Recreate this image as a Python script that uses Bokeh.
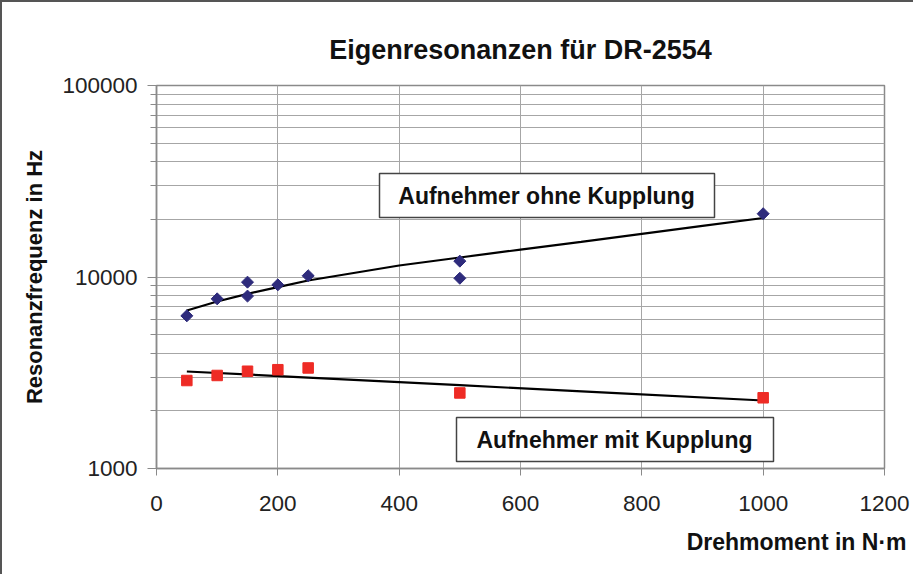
import numpy as np
from bokeh.plotting import figure
from bokeh.models import Range1d, FixedTicker, Label, BoxAnnotation, Title
from bokeh.embed import file_html
from bokeh.resources import INLINE

# ---- data ----
torque_ohne = [50, 100, 150, 150, 200, 250, 500, 500, 1000]
freq_ohne = [6270, 7690, 9400, 7950, 9100, 10150, 12100, 9850, 21400]

torque_mit = [50, 100, 150, 200, 250, 500, 1000]
freq_mit = [2880, 3060, 3220, 3280, 3350, 2480, 2340]

trend_ohne_x = [50, 100, 150, 200, 250, 400, 500, 600, 700, 800, 900, 1000]
trend_ohne_y = [6680, 7450, 8170, 8850, 9590, 11480, 12640, 13900, 15270, 16810, 18490, 20330]

trend_mit_x = [50, 250, 500, 750, 1000]
trend_mit_y = [3210, 2985, 2722, 2483, 2265]

x_tick_values = [0, 200, 400, 600, 800, 1000, 1200]
x_tick_labels = ["0", "200", "400", "600", "800", "1000", "1200"]
y_tick_values = [1000, 10000, 100000]
y_tick_labels = ["1000", "10000", "100000"]

title_text = "Eigenresonanzen für DR-2554"
x_label_text = "Drehmoment in N·m"
y_label_text = "Resonanzfrequenz in Hz"
label_ohne = "Aufnehmer ohne Kupplung"
label_mit = "Aufnehmer mit Kupplung"

FONT = "Liberation Sans"
GRID = "#a6a6a6"
TXT = "#111111"

p = figure(width=913, height=574, output_backend="svg", toolbar_location=None,
           y_axis_type="log",
           x_range=Range1d(0, 1200), y_range=Range1d(1000, 100000),
           min_border_left=154, min_border_right=31, min_border_top=83, min_border_bottom=108)
p.styles = {"border-left": "2px solid #555555", "border-top": "2px solid #555555"}
p.background_fill_color = "white"
p.border_fill_color = "white"
p.outline_line_color = "#8a8a8a"
p.outline_line_width = 1.5

# title
p.title.text = title_text
p.title.align = "center"
p.title.text_font = FONT
p.title.text_font_size = "27px"
p.title.text_font_style = "bold"
p.title.text_color = TXT
p.title.standoff = 41

# ticks
minor_y = [m * d for d in (1000, 10000) for m in range(2, 10)]
p.xaxis.ticker = FixedTicker(ticks=x_tick_values)
p.yaxis.ticker = FixedTicker(ticks=y_tick_values, minor_ticks=minor_y)
p.xaxis.major_label_overrides = {v: s for v, s in zip(x_tick_values, x_tick_labels)}
p.yaxis.major_label_overrides = {v: s for v, s in zip(y_tick_values, y_tick_labels)}

for ax in (p.xaxis, p.yaxis):
    ax.axis_line_color = "#8a8a8a"
    ax.axis_line_width = 1.5
    ax.major_tick_line_color = "#8a8a8a"
    ax.minor_tick_line_color = "#8a8a8a"
    ax.major_tick_in = 0
    ax.minor_tick_in = 0
    ax.major_label_text_font = FONT
    ax.major_label_text_font_size = "22.5px"
    ax.major_label_text_color = "#222222"
p.yaxis.major_tick_out = 9
p.yaxis.minor_tick_out = 6
p.xaxis.major_tick_out = 7
p.xaxis.minor_tick_line_color = None
p.yaxis.major_label_standoff = 10
p.xaxis.major_label_standoff = 20

# y axis label
p.yaxis.axis_label = y_label_text
p.yaxis.axis_label_text_font = FONT
p.yaxis.axis_label_text_font_size = "22px"
p.yaxis.axis_label_text_font_style = "bold"
p.yaxis.axis_label_text_color = TXT
p.yaxis.axis_label_standoff = 12

# x axis label as a right-aligned title below the axis
p.add_layout(Title(text=x_label_text, align="right", offset=-22, standoff=27,
                   text_font=FONT, text_font_size="23px", text_font_style="bold",
                   text_color=TXT), "below")

p.xgrid.grid_line_color = GRID
p.ygrid.grid_line_color = GRID
p.ygrid.minor_grid_line_color = GRID

# trend lines
p.line(trend_ohne_x, trend_ohne_y, line_color="black", line_width=2.2)
p.line(trend_mit_x, trend_mit_y, line_color="black", line_width=2.2)

# markers
p.scatter(torque_ohne, freq_ohne, marker="square", angle=np.pi / 4, size=8.5,
          fill_color="#2e2b7c", line_color="#2e2b7c")
p.scatter(torque_mit, freq_mit, marker="square", size=10.5,
          fill_color="#ee2b25", line_color="#ee2b25")

# series label boxes (screen units relative to plot frame)
def add_box(left, right, top, bottom):
    p.add_layout(BoxAnnotation(left=left, right=right, top=top, bottom=bottom,
                               left_units="screen", right_units="screen",
                               top_units="screen", bottom_units="screen",
                               fill_color="white", fill_alpha=1.0,
                               line_color="#444444", line_width=1.5, line_alpha=1.0))

def add_label(text, x, y, size):
    p.add_layout(Label(x=x, y=y, x_units="screen", y_units="screen", text=text,
                       text_font=FONT, text_font_size=size, text_font_style="bold",
                       text_color=TXT, text_align="center", text_baseline="middle"))

add_box(223, 558, 295, 251)
add_box(300, 617, 51, 7)
add_label(label_ohne, 390, 273, "23px")
add_label(label_mit, 458, 29, "23px")

open("out.html", "w").write(file_html(p, INLINE))
